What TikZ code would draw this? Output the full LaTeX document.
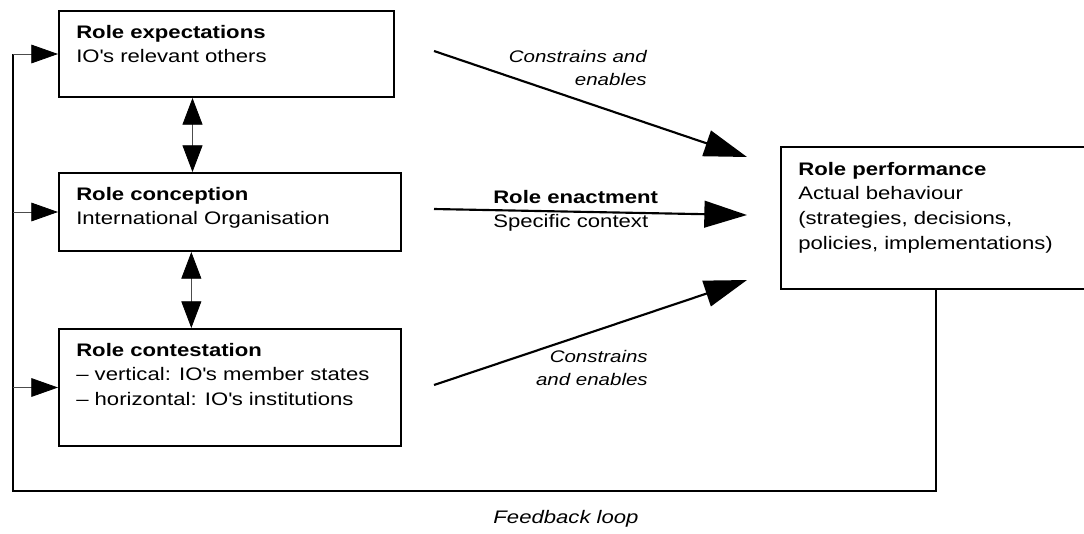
\documentclass[tikz,border=0pt]{standalone}
\usepackage{fontspec}
\setmainfont{Liberation Sans}[FakeStretch=1.22]
\usetikzlibrary{arrows.meta}

\tikzset{
  rolebox/.style={draw, line width=1.5pt, inner sep=0pt, anchor=north west},
  boxtext/.style={anchor=north west, inner sep=0pt, align=left, font=\fontsize{13.6}{18.4}\selectfont},
  cmtext/.style={anchor=north east, inner sep=0pt, align=right, font=\fontsize{12.6}{17}\selectfont\itshape},
  bigarrow/.style={line width=1.6pt, -{Triangle[length=32pt,width=20pt]}},
  sidearrow/.style={line width=0.6pt, draw=black!70, -{Triangle[length=20pt,width=14pt,color=black]}},
  dblarrow/.style={line width=0.6pt, draw=black!70, {Triangle[length=20pt,width=15pt,color=black]}-{Triangle[length=20pt,width=15pt,color=black]}},
  loopline/.style={line width=1.5pt}
}

\begin{document}
\begin{tikzpicture}[x=0.75pt,y=0.75pt,yscale=-1,xscale=1]
\useasboundingbox (0,0) rectangle (1084,533);

%=====Dobozok=======
\node[rolebox, minimum width=251.25pt, minimum height=64.5pt] (expect) at (58,10) {};
\node[rolebox, minimum width=256.5pt, minimum height=58.5pt] (conc) at (58,172) {};
\node[rolebox, minimum width=256.5pt, minimum height=87.75pt] (contest) at (58,328) {};
\node[rolebox, minimum width=232.5pt, minimum height=106.5pt] (perf) at (780,146) {};

\node[boxtext] (expecttxt) at ([shift={(18,15)}]expect.north west) {\textbf{Role expectations}\\IO\textquotesingle s relevant others};
\node[boxtext] (conctxt) at ([shift={(18,15)}]conc.north west) {\textbf{Role conception}\\International Organisation};
\node[boxtext] (contesttxt) at ([shift={(18,15)}]contest.north west) {\textbf{Role contestation}\\-- vertical: IO\textquotesingle s member states\\-- horizontal: IO\textquotesingle s institutions};
\node[boxtext] (perftxt) at ([shift={(18,16)}]perf.north west) {\textbf{Role performance}\\Actual behaviour\\(strategies, decisions,\\policies, implementations)};

%=====Nyilak=======
\draw[dblarrow] ([xshift=-25.5]expect.south) -- ([xshift=-25.5]expect.south |- conc.north);
\draw[dblarrow] ([xshift=-29]conc.south) -- ([xshift=-29]conc.south |- contest.north);

\draw[bigarrow] ([shift={(39,-3)}]expect.east) -- ([shift={(-33,11)}]perf.north west);
\draw[bigarrow] ([shift={(32,-3)}]conc.east) -- ([shift={(-33,-3)}]perf.west);
\draw[bigarrow] ([shift={(32,-2.5)}]contest.east) -- ([shift={(-33,-10)}]perf.south west);

%=====Visszacsatolas=======
\coordinate (fbcorner) at (13,491);
\draw[loopline] (perf.south) |- (fbcorner) -- (fbcorner |- expect.west);
\draw[sidearrow] (fbcorner |- expect.west) -- (expect.west);
\draw[sidearrow] (fbcorner |- conc.west) -- (conc.west);
\draw[sidearrow] (fbcorner |- contest.west) -- (contest.west);

%======Felirat=========
\node[cmtext] (cmtop) at (647,50) {Constrains and\\enables};
\node[cmtext] (cmbottom) at (648,350) {Constrains\\and enables};
\node[boxtext] (enact) at (493,190) {\textbf{Role enactment}\\Specific context};
\node[anchor=north, inner sep=0pt, font=\fontsize{13.6}{18.4}\selectfont\itshape] (fbloop) at (566,510) {Feedback loop};

\end{tikzpicture}
\end{document}
